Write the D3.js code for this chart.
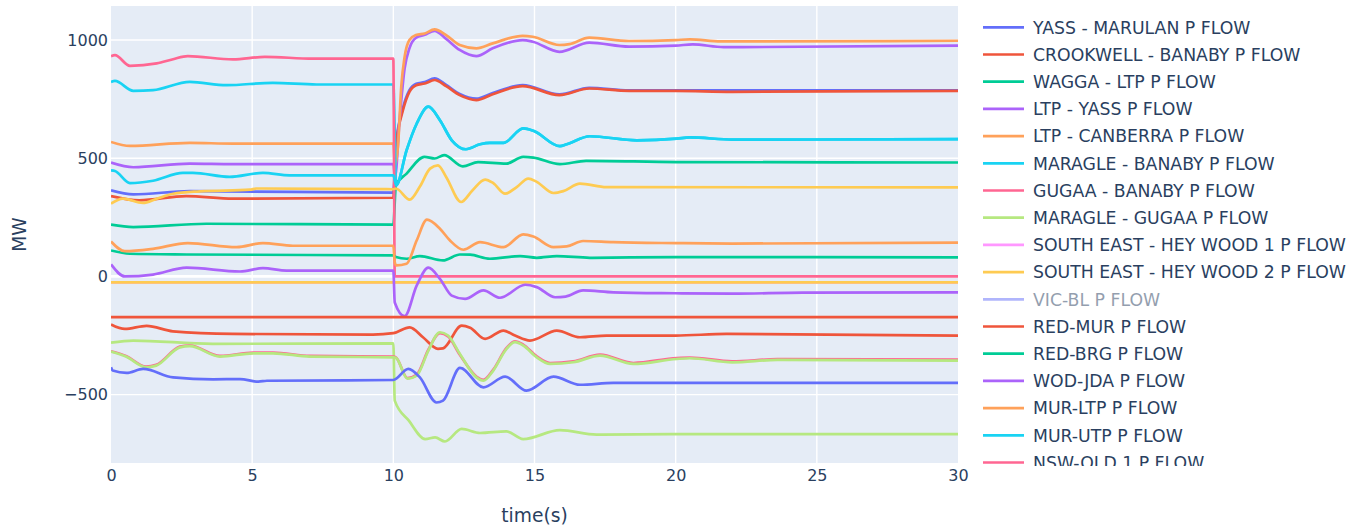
<!DOCTYPE html>
<html>
<head>
<meta charset="utf-8">
<script src="https://cdn.jsdelivr.net/npm/d3@7"></script>
<style>
  body { margin: 0; background: #fff; }
  svg { display: block; }
  text { font-family: "DejaVu Sans", Verdana, "Open Sans", arial, sans-serif; }
</style>
</head>
<body>
<svg id="chart" width="1369" height="530"></svg>
<script>
// ---- tick labels ----
const xTicks = [0, 5, 10, 15, 20, 25, 30];
const yTicks = [-500, 0, 500, 1000];

// ---- series: [time (s), active power (MW)] ----
const yassMarulan = [[0,364],[0.79,347],[2.79,361],[10,355],[10.09,555],[10.34,712],[10.57,788],[10.81,815],[11.11,822],[11.46,838],[11.87,810],[12.35,772],[12.94,752],[13.52,776],[14.58,809],[15.88,770],[16.94,798],[18.35,787],[20,787],[30,787]];
const crookwellBanaby = [[0,340],[1.0,322],[2.66,340],[4.32,329],[10,333],[10.09,548],[10.34,703],[10.57,781],[10.81,809],[11.11,816],[11.46,831],[11.87,805],[12.35,767],[12.94,746],[13.52,771],[14.58,805],[15.88,767],[16.94,795],[18.35,785],[20,785],[22,781],[30,785]];
const waggaLtp = [[0,219],[0.79,209],[3.38,223],[10,219],[10.09,385],[10.47,435],[11.1,506],[11.46,499],[11.8,513],[12.46,466],[13.0,484],[14.0,477],[14.6,506],[14.96,503],[15.9,475],[16.83,489],[20.04,484],[30,482]];
const ltpYass = [[0,482],[0.79,462],[2.79,477],[4.32,475],[10,475],[10.06,420],[10.22,661],[10.4,880],[10.57,965],[10.81,1010],[11.11,1022],[11.46,1039],[11.87,1005],[12.35,958],[12.94,932],[13.52,965],[14.58,1000],[14.94,993],[15.88,950],[16.94,989],[18.35,972],[20.0,976],[20.6,982],[21.7,970],[30,976]];
const ltpCanberra = [[0,569],[0.67,552],[2.79,565],[4.32,562],[10,562],[10.06,470],[10.17,560],[10.28,802],[10.4,929],[10.57,1000],[10.8,1021],[11.11,1028],[11.46,1045],[11.87,1021],[12.35,979],[12.94,965],[13.52,986],[14.58,1018],[14.94,1014],[15.88,979],[16.24,983],[16.94,1010],[18.35,996],[20.0,1000],[20.5,1003],[21.6,994],[30,997]];
const maragleBanaby = [[0,823],[0.14,827],[0.79,785],[1.49,788],[2.79,823],[4.09,809],[5.73,819],[7.28,812],[10,812],[10.1,385],[10.47,534],[10.83,647],[11.24,718],[11.65,661],[12.07,576],[12.57,538],[13.07,559],[13.42,565],[13.9,565],[14.6,626],[14.96,616],[15.9,551],[16.14,559],[16.96,593],[18.62,576],[20.04,583],[20.5,588],[22.03,579],[30,581]];
const gugaaBanaby = [[0,932],[0.14,936],[0.67,891],[1.62,901],[2.2,919],[2.72,932],[4.32,918],[5.45,929],[7.15,921],[10,921],[10.05,0],[30,0]];
const maragleGugaa = [[0,-280],[0.79,-271],[3.6,-285],[10,-283],[10.05,-525],[10.55,-610],[11.13,-688],[11.48,-681],[11.83,-698],[12.42,-645],[13.07,-662],[14.0,-655],[14.6,-688],[15.9,-650],[17.2,-669],[20.04,-667],[30,-667]];
const southEastHeywood1 = [[0,-25],[30,-25]];
const southEastHeywood2 = [[0,-25],[30,-25]];
const vicBl = [];
const redMur = [[0,-203],[0.49,-222],[1.26,-209],[2.19,-232],[4.32,-243],[9.28,-246],[10,-240],[10.58,-215],[11.05,-257],[11.58,-306],[11.76,-304],[12.42,-208],[12.72,-217],[13.25,-264],[13.9,-229],[14.31,-250],[14.84,-271],[15.79,-229],[16.61,-257],[17.55,-250],[20.0,-250],[21.8,-243],[30,-250]];
const redBrg = [[0,110],[0.67,96],[2.68,93],[10,89],[10.09,82],[10.47,75],[10.94,86],[11.76,68],[12.36,93],[12.72,92],[13.42,75],[14.49,86],[15.08,79],[15.79,86],[16.96,79],[20.04,82],[30,81]];
const wodJda = [[0,51],[0.49,0],[1.49,8],[2.68,37],[4.57,21],[5.38,35],[6.22,25],[10,25],[10.05,-110],[10.4,-168],[10.83,-38],[11.24,37],[11.65,-10],[12.07,-81],[12.54,-95],[13.19,-59],[13.78,-90],[14.67,-35],[15.08,-45],[15.73,-88],[16.1,-85],[16.72,-59],[17.79,-67],[20.0,-71],[22.0,-73],[24.5,-68],[30,-67]];
const murLtp = [[0,148],[0.49,107],[1.49,117],[2.72,141],[4.45,124],[5.38,141],[6.44,130],[10,130],[10.05,60],[10.1,47],[10.47,54],[10.83,153],[11.19,240],[11.65,202],[12.0,153],[12.48,113],[13.07,145],[13.9,124],[14.6,178],[14.96,169],[15.67,124],[16.14,127],[16.72,150],[17.79,145],[20.04,141],[22.0,139],[30,143]];
const murUtp = [[0,449],[0.14,446],[0.67,395],[1.49,405],[2.55,438],[2.9,438],[4.2,421],[5.38,438],[6.33,428],[10,428],[10.1,385],[10.47,534],[10.83,647],[11.24,718],[11.65,661],[12.07,576],[12.57,538],[13.07,559],[13.42,565],[13.9,565],[14.6,626],[14.96,616],[15.9,551],[16.14,559],[16.96,593],[18.62,576],[20.04,583],[20.5,588],[22.03,579],[30,581]];
const nswQld1 = [[0,-316],[0.53,-336],[1.24,-381],[1.6,-374],[2.44,-297],[2.79,-292],[3.86,-336],[5.04,-322],[5.74,-322],[7.05,-336],[10,-339],[10.1,-343],[10.5,-430],[10.83,-415],[11.24,-310],[11.65,-240],[11.94,-254],[12.36,-332],[12.94,-423],[13.19,-437],[13.54,-394],[14.01,-302],[14.31,-274],[14.6,-288],[15.08,-338],[15.55,-366],[16.37,-359],[17.32,-331],[18.5,-366],[20.04,-345],[20.5,-343],[22.0,-359],[23.6,-350],[30,-352]];
// flows further down the scrolled legend
const flowLightGreen = [[0,-318],[0.53,-339],[1.24,-384],[1.6,-377],[2.44,-300],[2.79,-295],[3.86,-339],[5.04,-325],[5.74,-325],[7.05,-339],[10,-342],[10.1,-345],[10.5,-432],[10.83,-419],[11.24,-314],[11.65,-236],[11.94,-250],[12.36,-328],[12.94,-427],[13.19,-441],[13.54,-398],[14.01,-306],[14.31,-278],[14.6,-292],[15.08,-342],[15.55,-370],[16.37,-363],[17.32,-335],[18.5,-370],[20.04,-349],[20.5,-346],[22.0,-363],[23.6,-353],[30,-356]];
const flowYellow = [[0,308],[0.42,329],[1.13,311],[1.62,329],[2.2,350],[3.15,360],[4.92,367],[5.15,372],[10,369],[10.09,372],[10.58,325],[10.93,378],[11.3,456],[11.58,470],[11.87,421],[12.4,315],[12.8,364],[13.25,410],[13.54,395],[13.96,350],[14.37,378],[14.78,414],[15.08,400],[15.67,353],[16.02,361],[16.61,393],[17.55,378],[30,377]];
const flowBlue = [[0,-384],[0.06,-398],[0.55,-408],[1.14,-391],[2.2,-427],[3.62,-435],[4.57,-434],[5.22,-445],[5.52,-441],[10,-438],[10.53,-391],[10.94,-427],[11.53,-533],[11.76,-525],[12.36,-387],[13.19,-469],[13.96,-424],[14.72,-483],[15.67,-424],[16.61,-458],[17.79,-450],[30,-450]];
const flowRed = [[0,-172],[30,-172]];

const traces = [
  { name: "YASS - MARULAN P FLOW", color: "#636efa", data: yassMarulan },
  { name: "CROOKWELL - BANABY P FLOW", color: "#EF553B", data: crookwellBanaby },
  { name: "WAGGA - LTP P FLOW", color: "#00cc96", data: waggaLtp },
  { name: "LTP - YASS P FLOW", color: "#ab63fa", data: ltpYass },
  { name: "LTP - CANBERRA P FLOW", color: "#FFA15A", data: ltpCanberra },
  { name: "MARAGLE - BANABY P FLOW", color: "#19d3f3", data: maragleBanaby },
  { name: "GUGAA - BANABY P FLOW", color: "#FF6692", data: gugaaBanaby },
  { name: "MARAGLE - GUGAA P FLOW", color: "#B6E880", data: maragleGugaa },
  { name: "SOUTH EAST - HEY WOOD 1 P FLOW", color: "#FF97FF", data: southEastHeywood1 },
  { name: "SOUTH EAST - HEY WOOD 2 P FLOW", color: "#FECB52", data: southEastHeywood2 },
  { name: "VIC-BL P FLOW", color: "#636efa", data: vicBl, hidden: true },
  { name: "RED-MUR P FLOW", color: "#EF553B", data: redMur },
  { name: "RED-BRG P FLOW", color: "#00cc96", data: redBrg },
  { name: "WOD-JDA P FLOW", color: "#ab63fa", data: wodJda },
  { name: "MUR-LTP P FLOW", color: "#FFA15A", data: murLtp },
  { name: "MUR-UTP P FLOW", color: "#19d3f3", data: murUtp },
  { name: "NSW-QLD 1 P FLOW", color: "#FF6692", data: nswQld1 },
  { name: null, color: "#B6E880", data: flowLightGreen },
  { name: null, color: "#FECB52", data: flowYellow },
  { name: null, color: "#636efa", data: flowBlue },
  { name: null, color: "#EF553B", data: flowRed }
];

// ---- layout ----
const svg = d3.select("#chart");
const plot = { left: 111, right: 958, top: 6, bottom: 463 };
const ink = "#2a3f5f";

const x = d3.scaleLinear().domain([0, 30]).range([plot.left, plot.right]);
const y = d3.scaleLinear().domain([-789, 1144]).range([plot.bottom, plot.top]);

svg.append("rect")
  .attr("x", plot.left).attr("y", plot.top)
  .attr("width", plot.right - plot.left).attr("height", plot.bottom - plot.top)
  .attr("fill", "#E5ECF6");

// grid
const grid = svg.append("g");
grid.selectAll("line.gx").data(xTicks.filter(d => d > 0 && d < 30)).join("line")
  .attr("x1", d => x(d)).attr("x2", d => x(d))
  .attr("y1", plot.top).attr("y2", plot.bottom)
  .attr("stroke", "#fff").attr("stroke-width", 1.4);
grid.selectAll("line.gy").data(yTicks).join("line")
  .attr("x1", plot.left).attr("x2", plot.right)
  .attr("y1", d => y(d)).attr("y2", d => y(d))
  .attr("stroke", "#fff").attr("stroke-width", d => d === 0 ? 2.8 : 1.4);

// axes (labels only)
const xAxis = d3.axisBottom(x).tickValues(xTicks).tickSize(0).tickPadding(7).tickFormat(d3.format("d"));
const yAxis = d3.axisLeft(y).tickValues(yTicks).tickSize(0).tickPadding(3).tickFormat(d3.format("d"));
const gx = svg.append("g").attr("transform", `translate(0,${plot.bottom})`).call(xAxis);
const gy = svg.append("g").attr("transform", `translate(${plot.left},0)`).call(yAxis);
[gx, gy].forEach(g => {
  g.select(".domain").remove();
  g.selectAll("text").attr("fill", ink).style("font-size", "16px");
});

// lines
svg.append("clipPath").attr("id", "plotClip").append("rect")
  .attr("x", plot.left).attr("y", plot.top)
  .attr("width", plot.right - plot.left).attr("height", plot.bottom - plot.top);

const line = d3.line().x(d => x(d[0])).y(d => y(d[1])).curve(d3.curveMonotoneX);
svg.append("g").attr("clip-path", "url(#plotClip)")
  .selectAll("path").data(traces.filter(t => !t.hidden && t.data.length)).join("path")
  .attr("d", d => line(d.data))
  .attr("fill", "none")
  .attr("stroke", d => d.color)
  .attr("stroke-width", 2.7)
  .attr("stroke-linejoin", "round");

// axis titles
svg.append("text").attr("x", (plot.left + plot.right) / 2).attr("y", 522)
  .attr("text-anchor", "middle").attr("fill", ink).style("font-size", "18.7px").text("time(s)");
svg.append("text").attr("transform", `translate(26,${(plot.top + plot.bottom) / 2}) rotate(-90)`)
  .attr("text-anchor", "middle").attr("fill", ink).style("font-size", "18.7px").text("MW");

// legend (scroll window)
svg.append("clipPath").attr("id", "legendClip").append("rect")
  .attr("x", 970).attr("y", 8).attr("width", 399).attr("height", 458);
const legend = svg.append("g").attr("clip-path", "url(#legendClip)");
const items = legend.selectAll("g").data(traces.filter(t => t.name)).join("g")
  .attr("transform", (d, i) => `translate(983,${27.3 + 27.2 * i})`)
  .attr("opacity", d => d.hidden ? 0.5 : 1);
items.append("line").attr("x1", 0).attr("x2", 41)
  .attr("stroke", d => d.color).attr("stroke-width", 2.7);
items.append("text").attr("x", 50).attr("dy", "0.36em")
  .attr("fill", ink).style("font-size", "17.3px").text(d => d.name);
</script>
</body>
</html>
